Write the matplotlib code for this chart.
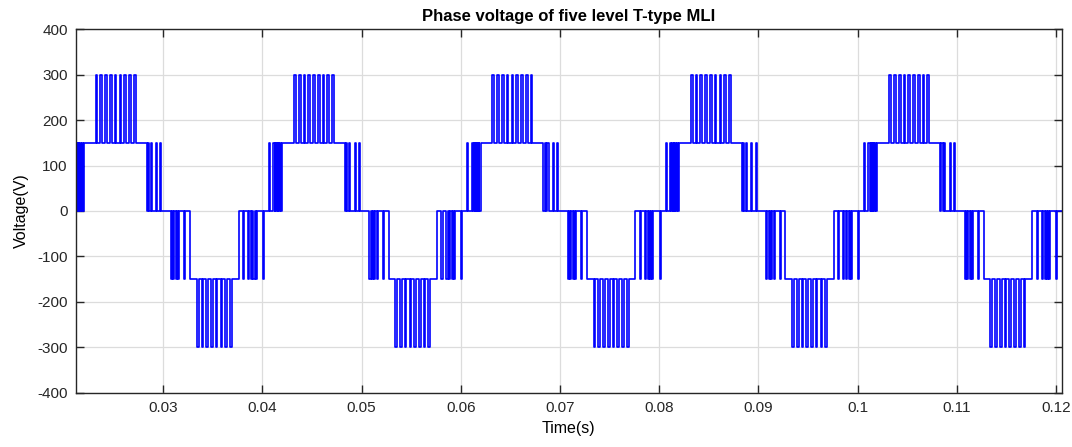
import matplotlib.pyplot as plt
import numpy as np

plt.rcParams['font.family'] = ['Liberation Sans', 'DejaVu Sans']
plt.rcParams['axes.unicode_minus'] = False

# start of each 50 Hz period seen in the window (s)
period_starts = [0.02, 0.04, 0.06, 0.08, 0.10, 0.12]
step_v = 150

# switching pattern of one period
# (on, off) in ms from the period start, each adds one 150 V step
pos_band_a = [(0.65, 0.78), (1.10, 1.24), (1.32, 1.40), (1.46, 1.54), (1.60, 1.68), (1.80, 1.88)]
pos_flat = [(2.00, 8.33)]
pos_peak = [(3.20, 3.37), (3.68, 3.85), (4.16, 4.33), (4.64, 4.81), (5.12, 5.29),
            (5.61, 5.78), (6.09, 6.26), (6.57, 6.74), (7.05, 7.22)]
pos_band_c = [(8.45, 8.57), (8.74, 8.86), (9.30, 9.40), (9.72, 9.82)]
# negative half, each subtracts one step
neg_band_a = [(10.80, 10.92), (11.04, 11.14), (11.30, 11.40), (11.55, 11.65), (12.15, 12.25)]
neg_flat = [(12.73, 17.60)]
neg_peak = [(13.40, 13.57), (13.88, 14.05), (14.36, 14.53), (14.84, 15.01),
            (15.31, 15.48), (15.79, 15.96), (16.27, 16.44), (16.75, 16.92)]
neg_band_c = [(18.05, 18.18), (18.55, 18.68), (18.85, 18.95), (19.10, 19.22),
              (19.32, 19.42), (20.05, 20.15)]

x_ticks = [0.03, 0.04, 0.05, 0.06, 0.07, 0.08, 0.09, 0.10, 0.11, 0.12]
x_labels = ['0.03', '0.04', '0.05', '0.06', '0.07', '0.08', '0.09', '0.1', '0.11', '0.12']
y_ticks = [-400, -300, -200, -100, 0, 100, 200, 300, 400]
x_lim = (0.02122, 0.12058)


def build_trace():
    groups = [(pos_band_a, 1), (pos_flat, 1), (pos_peak, 1), (pos_band_c, 1),
              (neg_band_a, -1), (neg_flat, -1), (neg_peak, -1), (neg_band_c, -1)]
    segs = []
    for t0 in period_starts:
        for group, sign in groups:
            for a, b in group:
                segs.append((t0 + a / 1000, t0 + b / 1000, sign * step_v))
    edges = sorted(set([s[0] for s in segs] + [s[1] for s in segs]))
    t = np.array([x_lim[0]] + [e for e in edges if x_lim[0] < e < x_lim[1]] + [x_lim[1]])
    v = np.zeros(len(t))
    for a, b, lvl in segs:
        v[(t >= a) & (t < b)] += lvl
    return t, v


t, v = build_trace()

fig = plt.figure(figsize=(10.72, 4.47), dpi=100)
ax = fig.add_axes([0.0709, 0.1213, 0.9195, 0.8134])
ax.step(t, v, where='post', color='#0000ff', lw=1.2)

ax.set_xlim(*x_lim)
ax.set_ylim(-400, 400)
ax.set_xticks(x_ticks)
ax.set_xticklabels(x_labels)
ax.set_yticks(y_ticks)
ax.grid(True, color='#dcdcdc', lw=0.9)
ax.tick_params(direction='in', length=6, width=1, top=True, right=True,
               labelsize=11, colors='#262626', pad=6)
for s in ax.spines.values():
    s.set_color('#262626')
    s.set_linewidth(1.0)

ax.set_title('Phase voltage of five level T-type MLI', fontsize=12, fontweight='bold', pad=6)
ax.set_xlabel('Time(s)', fontsize=11.5, labelpad=4)
ax.set_ylabel('Voltage(V)', fontsize=11.5, labelpad=6)

fig.savefig('out.png', dpi=100)
